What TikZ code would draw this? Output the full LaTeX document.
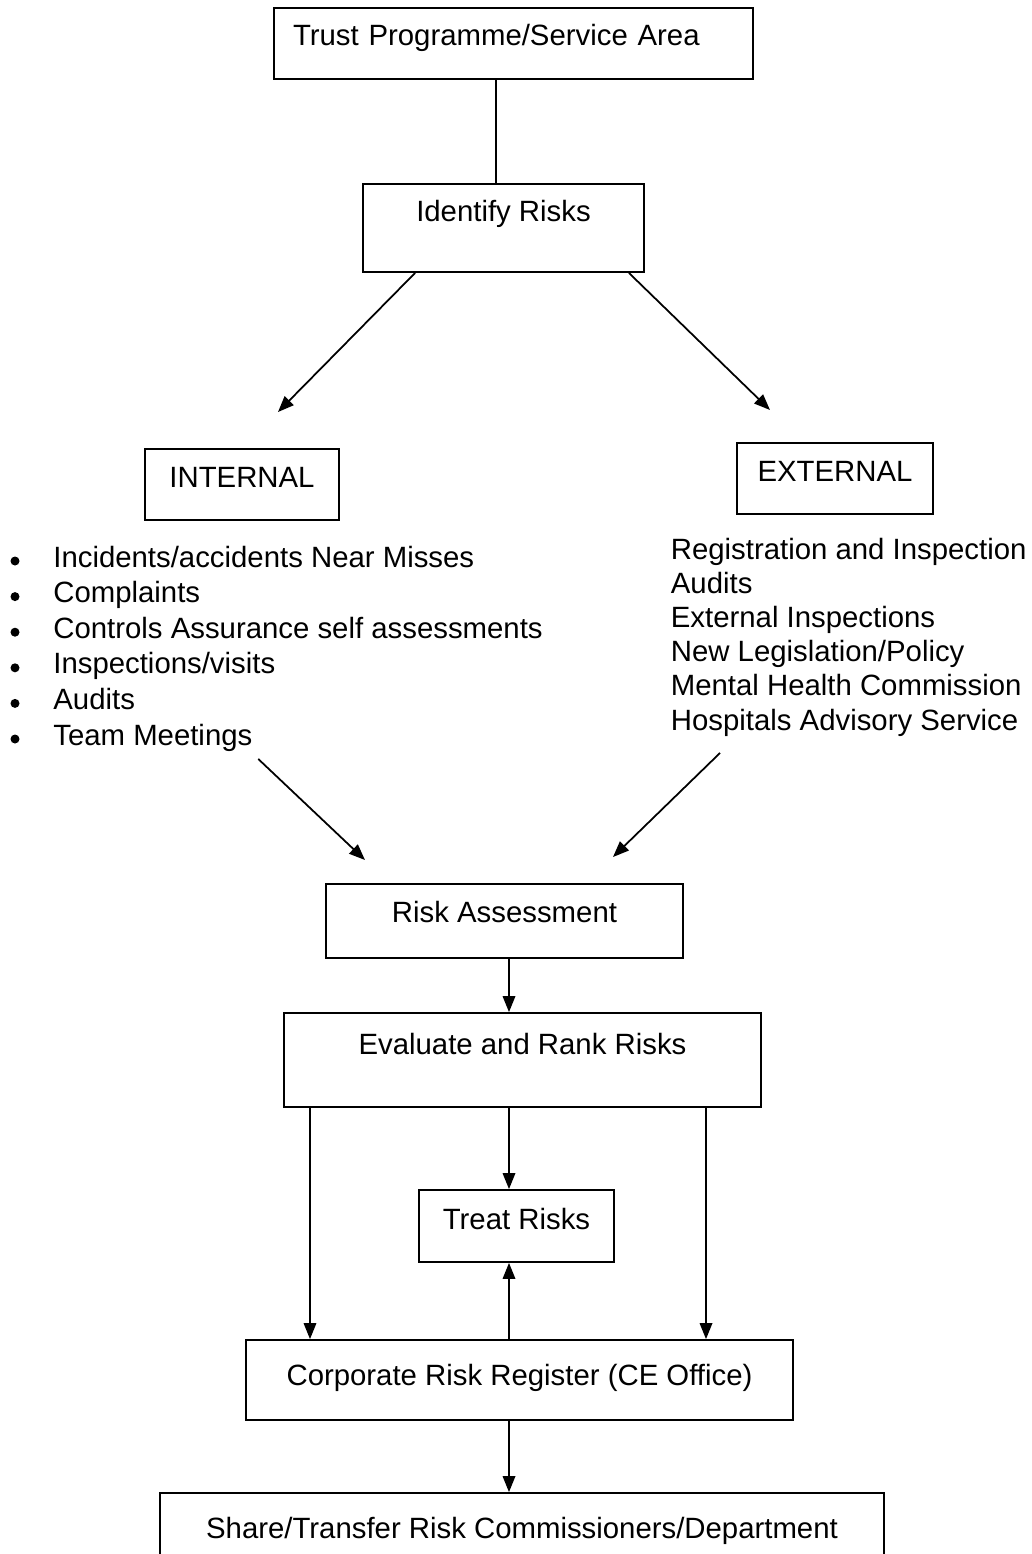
\documentclass[tikz,border=0pt]{standalone}
\usepackage{fontspec}
\setmainfont{Liberation Sans}
\usetikzlibrary{arrows.meta}

\begin{document}
\begin{tikzpicture}[line width=1pt,
    font=\fontsize{16.7}{20}\selectfont,
    box/.style={draw, inner sep=0pt},
    item/.style={anchor=base west, inner sep=0pt},
    flow/.style={-{Triangle[length=0.32cm,width=0.25cm]}}]
  \useasboundingbox (0,0) rectangle (20.64,-31.08);

  % text height = baseline below the top edge, text depth = the rest
  \node[box, minimum width=9.58cm, inner xsep=0.38cm, text width=8.82cm, align=left,
        text height=0.74cm, text depth=0.68cm] (trust) at (10.27,-0.87) {Trust Programme/Service Area};
  \node[box, minimum width=5.62cm, text height=0.74cm, text depth=1.02cm] (ident) at (10.07,-4.56) {Identify Risks};
  \node[box, minimum width=3.88cm, text height=0.76cm, text depth=0.66cm] (intl) at (4.84,-9.69) {INTERNAL};
  \node[box, minimum width=3.92cm, text height=0.76cm, text depth=0.66cm] (extl) at (16.70,-9.57) {EXTERNAL};
  \node[box, minimum width=7.14cm, text height=0.76cm, text depth=0.72cm] (ra) at (10.09,-18.42) {Risk Assessment};
  \node[box, minimum width=9.54cm, text height=0.82cm, text depth=1.06cm] (eval) at (10.45,-21.20) {Evaluate and Rank Risks};
  \node[box, minimum width=3.90cm, text height=0.78cm, text depth=0.66cm] (treat) at (10.33,-24.52) {Treat Risks};
  \node[box, minimum width=10.94cm, text height=0.90cm, text depth=0.70cm] (corp) at (10.39,-27.60) {Corporate Risk Register (CE Office)};
  \node[box, minimum width=14.48cm, text height=0.90cm, text depth=0.90cm] (share) at (10.44,-30.76) {Share/Transfer Risk Commissioners/Department};

  % sources of risk
  \foreach \txt [count=\i] in {Incidents/accidents Near Misses, Complaints,
      Controls Assurance self assessments, Inspections/visits, Audits, Team Meetings}{
    \node[item] (int\i) at (1.05,{-11.34-0.712*(\i-1)}) {\txt};
    \fill (0.30,{-11.22-0.712*(\i-1)}) circle (0.09);
  }
  \foreach \txt [count=\i] in {Registration and Inspection, Audits, External Inspections,
      New Legislation/Policy, Mental Health Commission, Hospitals Advisory Service}{
    \node[item] (ext\i) at (13.40,{-11.18-0.684*(\i-1)}) {\txt};
  }

  % free arrow ends and the column of the vertical links
  \coordinate (inTip) at (5.56,-8.24);
  \coordinate (exTip) at (15.40,-8.20);
  \coordinate (raL) at (7.30,-17.20);
  \coordinate (raR) at (12.26,-17.14);
  \coordinate (stem) at (9.92,0);
  \coordinate (mid) at (10.18,0);
  \coordinate (left) at (6.20,0);
  \coordinate (right) at (14.12,0);

  \draw (stem |- trust.south) -- (stem |- ident.north);
  \draw[flow] ([xshift=1.06cm]ident.south west) -- (inTip);
  \draw[flow] ([xshift=-0.32cm]ident.south east) -- (exTip);
  \draw[flow] ([shift={(0.10,-0.14)}]int6.south east) -- (raL);
  \draw[flow] ([shift={(1.0,-0.32)}]ext6.south west) -- (raR);

  \draw[flow] (mid |- ra.south) -- (mid |- eval.north);
  \draw[flow] (mid |- eval.south) -- (mid |- treat.north);
  \draw[flow] (left |- eval.south) -- (left |- corp.north);
  \draw[flow] (right |- eval.south) -- (right |- corp.north);
  \draw[flow] (mid |- corp.north) -- (mid |- treat.south);
  \draw[flow] (mid |- corp.south) -- (mid |- share.north);
\end{tikzpicture}
\end{document}
